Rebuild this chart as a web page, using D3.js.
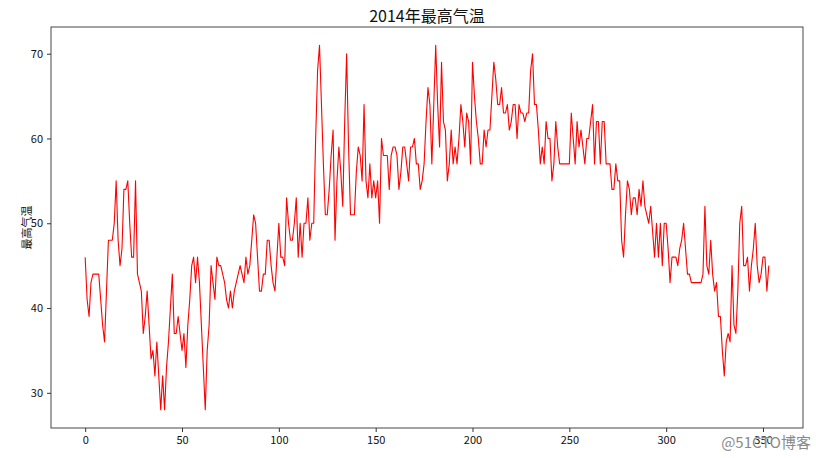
<!DOCTYPE html>
<html>
<head>
<meta charset="utf-8">
<script src="https://cdn.jsdelivr.net/npm/d3@7"></script>
<style>
html,body{margin:0;padding:0;background:#fff;}
svg{display:block;}
</style>
</head>
<body>
<svg id="chart" width="816" height="458"></svg>
<script>
const chartTitle = "2014年最高气温";
const yLabel = "最高气温";
const watermark = "@51CTO博客";
const xTicks = [0, 50, 100, 150, 200, 250, 300, 350];
const yTicks = [30, 40, 50, 60, 70];
const highTemps = [
  46,41,39,43,44,44,44,44,41,38, 36,42,48,48,48,50,55,48,45,47,
  54,54,55,50,46,46,55,44,43,42, 37,39,42,38,34,35,32,36,32,28,
  32,28,33,36,40,44,37,37,39,37, 35,37,33,38,41,45,46,43,46,43,
  38,33,28,35,38,45,43,41,46,45, 45,44,43,41,40,42,40,42,43,44,
  45,44,43,46,44,45,48,51,50,46, 42,42,44,44,48,48,45,43,42,46,
  50,46,46,45,53,50,48,48,50,53, 46,50,46,50,50,53,48,50,50,60,
  68,71,64,57,51,51,54,58,61,48, 55,59,56,52,62,70,59,51,51,51,
  56,59,58,55,64,55,53,57,53,55, 53,55,50,60,58,58,58,54,58,59,
  59,58,54,56,59,59,57,55,59,59, 60,57,57,54,55,57,62,66,64,57,
  64,71,64,59,69,62,61,55,57,61, 57,59,57,60,64,62,59,63,62,57,
  69,65,62,60,57,57,61,59,61,61, 65,69,67,64,64,66,63,63,64,61,
  62,64,64,60,64,63,63,62,63,63, 68,70,64,64,61,57,59,57,62,60,
  60,55,57,62,59,57,57,57,57,57, 57,63,60,57,62,59,61,59,57,60,
  60,62,64,57,62,62,57,62,62,57, 57,57,54,54,57,55,55,48,46,51,
  55,54,51,53,53,51,54,52,55,52, 51,50,52,49,46,50,46,50,45,50,
  50,47,43,46,46,46,45,47,48,50, 47,44,44,43,43,43,43,43,43,44,
  52,45,44,48,44,42,43,39,39,35, 32,36,37,36,45,38,37,42,50,52,
  45,45,46,42,45,47,50,45,43,44, 46,46,42,45
];
const days = highTemps.map((_, i) => i);

const W = 816, H = 458;
const plot = {left: 51, right: 803, top: 27, bottom: 428};
const svg = d3.select("#chart");

const xMin = d3.min(days), xMax = d3.max(days);
const xPad = (xMax - xMin) * 0.05;
const yMin = d3.min(highTemps), yMax = d3.max(highTemps);
const yPad = (yMax - yMin) * 0.05;

const x = d3.scaleLinear().domain([xMin - xPad, xMax + xPad]).range([plot.left, plot.right]);
const y = d3.scaleLinear().domain([yMin - yPad, yMax + yPad]).range([plot.bottom, plot.top]);

const font = "'Noto Sans CJK SC', 'DejaVu Sans', sans-serif";

// line
const line = d3.line().x((d, i) => x(days[i])).y(d => y(d));
svg.append("path")
  .datum(highTemps)
  .attr("d", line)
  .attr("fill", "none")
  .attr("stroke", "#ff0000")
  .attr("stroke-width", 1.1)
  .attr("stroke-linejoin", "round");

// frame
svg.append("rect")
  .attr("x", plot.left).attr("y", plot.top)
  .attr("width", plot.right - plot.left).attr("height", plot.bottom - plot.top)
  .attr("fill", "none").attr("stroke", "#333").attr("stroke-width", 0.9);

// axes
const xAxis = d3.axisBottom(x).tickValues(xTicks).tickSizeInner(4).tickSizeOuter(0).tickPadding(4);
const gx = svg.append("g").attr("transform", `translate(0,${plot.bottom})`).call(xAxis);
gx.select(".domain").remove();
gx.selectAll("line").attr("stroke", "#333");
gx.selectAll("text").attr("font-family", font).attr("font-size", 11).attr("fill", "#111");

const yAxis = d3.axisLeft(y).tickValues(yTicks).tickSizeInner(4).tickSizeOuter(0).tickPadding(4);
const gy = svg.append("g").attr("transform", `translate(${plot.left},0)`).call(yAxis);
gy.select(".domain").remove();
gy.selectAll("line").attr("stroke", "#333");
gy.selectAll("text").attr("font-family", font).attr("font-size", 11).attr("fill", "#111");

// title
svg.append("text")
  .attr("x", (plot.left + plot.right) / 2).attr("y", 22)
  .attr("text-anchor", "middle")
  .attr("font-family", font).attr("font-size", 16).attr("fill", "#111")
  .text(chartTitle);

// y label
svg.append("text")
  .attr("transform", `translate(31,${(plot.top + plot.bottom) / 2}) rotate(-90)`)
  .attr("text-anchor", "middle")
  .attr("font-family", font).attr("font-size", 11).attr("fill", "#111")
  .text(yLabel);

// watermark
svg.append("text")
  .attr("x", 811).attr("y", 448)
  .attr("text-anchor", "end")
  .attr("font-family", font).attr("font-size", 15)
  .attr("fill", "#8a8a8a").attr("stroke", "#fff").attr("stroke-width", 0.6)
  .attr("paint-order", "stroke")
  .text(watermark);
</script>
</body>
</html>
